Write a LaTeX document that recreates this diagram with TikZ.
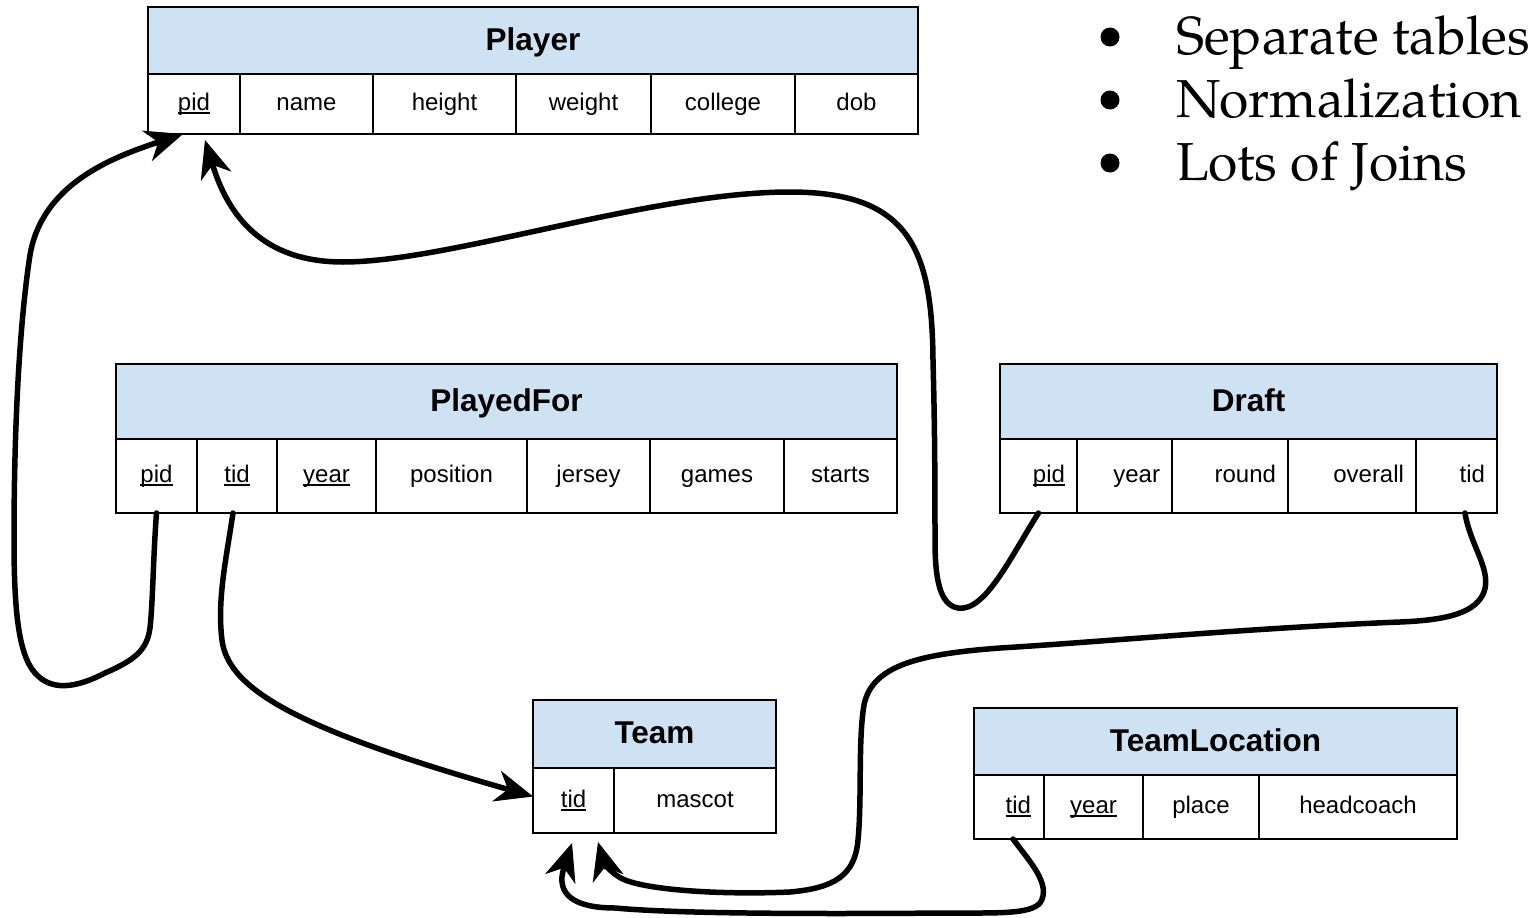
\documentclass[tikz,border=0pt]{standalone}
\usepackage{fontspec}
\setmainfont{Liberation Sans}
\newfontfamily\bulletfont{TeX Gyre Pagella}
\usetikzlibrary{arrows.meta}
\definecolor{hdrblue}{HTML}{CFE2F3}
% key attribute: underline at a fixed distance below the baseline
\newcommand\keyul[1]{\setbox0=\hbox{#1}\rlap{\rule[-3.8pt]{\wd0}{2pt}}\box0}
\tikzset{
  tbl/.style={draw=black, line width=1.5pt, inner sep=0pt, outer sep=0pt},
  hdr/.style={tbl, fill=hdrblue, font=\fontsize{31.5}{36}\selectfont\bfseries,
    text height=22.5pt, text depth=3.5pt},
  cell/.style={tbl, fill=white, font=\fontsize{24}{28}\selectfont,
    text height=17pt, text depth=4pt},
  rcell/.style={cell, align=right},
  fk/.style={line width=5.5pt, line cap=round, line join=round,
    -{Stealth[length=38pt,width=32pt,inset=12pt,line width=1pt]}},
  dot/.style={circle, fill=black, inner sep=0pt, minimum size=19pt},
  btext/.style={anchor=base west, inner sep=0pt, font=\bulletfont\fontsize{53.5}{64}\selectfont},
}
\begin{document}
\begin{tikzpicture}[x=1pt, y=-1pt]
\useasboundingbox (0,0) rectangle (1535,918);

% ---------- Player ----------
\node[hdr, minimum width=770, minimum height=67] (player) at (533,40.5) {Player};
\node[cell, minimum width=92,  minimum height=60] (plpid)     at (194,104)   {\keyul{pid}};
\node[cell, minimum width=133, minimum height=60] (plname)    at (306.5,104) {name};
\node[cell, minimum width=143, minimum height=60] (plheight)  at (444.5,104) {height};
\node[cell, minimum width=135, minimum height=60] (plweight)  at (583.5,104) {weight};
\node[cell, minimum width=144, minimum height=60] (plcollege) at (723,104)   {college};
\node[cell, minimum width=123, minimum height=60] (pldob)     at (856.5,104) {dob};

% ---------- PlayedFor ----------
\node[hdr, minimum width=781, minimum height=75] (playedfor) at (506.5,401.5) {PlayedFor};
\node[cell, minimum width=81,  minimum height=74] (pfpid)   at (156.5,476) {\keyul{pid}};
\node[cell, minimum width=80,  minimum height=74] (pftid)   at (237,476)   {\keyul{tid}};
\node[cell, minimum width=99,  minimum height=74] (pfyear)  at (326.5,476) {\keyul{year}};
\node[cell, minimum width=151, minimum height=74] (pfpos)   at (451.5,476) {position};
\node[cell, minimum width=123, minimum height=74] (pfjersey) at (588.5,476) {jersey};
\node[cell, minimum width=134, minimum height=74] (pfgames) at (717,476)   {games};
\node[cell, minimum width=113, minimum height=74] (pfstarts) at (840.5,476) {starts};

% ---------- Draft ----------
\node[hdr, minimum width=497, minimum height=75] (draft) at (1248.5,401.5) {Draft};
\node[rcell, minimum width=77,  text width=53,  minimum height=74] (dpid)     at (1038.5,476) {\keyul{pid}};
\node[rcell, minimum width=95,  text width=71,  minimum height=74] (dyear)    at (1124.5,476) {year};
\node[rcell, minimum width=116, text width=92,  minimum height=74] (dround)   at (1230,476)   {round};
\node[rcell, minimum width=128, text width=104, minimum height=74] (doverall) at (1352,476)   {overall};
\node[rcell, minimum width=81,  text width=57,  minimum height=74] (dtid)     at (1456.5,476) {tid};

% ---------- Team ----------
\node[hdr, minimum width=243, minimum height=68] (team) at (654.5,734) {Team};
\node[cell, minimum width=81,  minimum height=65] (tmtid)    at (573.5,800.5) {\keyul{tid}};
\node[cell, minimum width=162, minimum height=65] (tmmascot) at (695,800.5)   {mascot};

% ---------- TeamLocation ----------
\node[hdr, minimum width=483, minimum height=67] (teamloc) at (1215.5,741.5) {TeamLocation};
\node[rcell, minimum width=70, text width=44, minimum height=64] (tltid) at (1009,807) {\keyul{tid}};
\node[cell, minimum width=99,  minimum height=64] (tlyear)  at (1093.5,807) {\keyul{year}};
\node[cell, minimum width=116, minimum height=64] (tlplace) at (1201,807)   {place};
\node[cell, minimum width=198, minimum height=64] (tlcoach) at (1358,807)   {headcoach};

% ---------- bullet list ----------
\node[dot] (b1) at (1110,37)  {};
\node[dot] (b2) at (1110,100) {};
\node[dot] (b3) at (1110,163) {};
\node[btext] (t1) at (1176,54)  {Separate tables};
\node[btext] (t2) at (1176,117) {Normalization};
\node[btext] (t3) at (1176,180) {Lots of Joins};

% ---------- foreign keys ----------
% PlayedFor.pid -> Player.pid
\draw[fk] (pfpid.south) .. controls (153,560) and (153,600) .. (150,628)
  .. controls (147,650) and (135,660) .. (105,673)
  .. controls (80,686) and (55,692) .. (38,676)
  .. controls (20,660) and (14,620) .. (14,540)
  .. controls (14,420) and (20,320) .. (30,255)
  .. controls (42,185) and (110,158) .. ([xshift=-11]plpid.south);

% Draft.pid -> Player.pid
\draw[fk] (dpid.south) .. controls (1010,558) and (985,612) .. (958,608)
  .. controls (940,605) and (935,580) .. (935,540)
  .. controls (935,440) and (934,400) .. (933,360)
  .. controls (932,250) and (910,192) .. (790,192)
  .. controls (650,192) and (450,262) .. (343,262)
  .. controls (262,262) and (228,215) .. ([xshift=11,yshift=-6]plpid.south);

% PlayedFor.tid -> Team.tid
\draw[fk] ([xshift=-4]pftid.south) .. controls (226,560) and (217,600) .. (222,640)
  .. controls (228,690) and (300,730) .. ([yshift=4]tmtid.west);

% Draft.tid -> Team.tid
\draw[fk] ([xshift=8.5]dtid.south) .. controls (1470,545) and (1492,570) .. (1484,592)
  .. controls (1476,612) and (1450,620) .. (1400,622)
  .. controls (1250,628) and (1100,642) .. (1000,648)
  .. controls (920,654) and (872,665) .. (864,705)
  .. controls (858,740) and (862,800) .. (858,840)
  .. controls (855,875) and (835,888) .. (790,892)
  .. controls (720,895) and (650,890) .. (625,880)
  .. controls (610,874) and (603,860) .. ([xshift=24.5,yshift=-9]tmtid.south);

% TeamLocation.tid -> Team.tid
\draw[fk] ([xshift=4]tltid.south) .. controls (1030,862) and (1052,885) .. (1040,903)
  .. controls (1030,914) and (1000,913) .. (950,913)
  .. controls (820,914) and (680,914) .. (615,908)
  .. controls (575,908) and (555,895) .. ([xshift=-1.5,yshift=-10]tmtid.south);
\end{tikzpicture}
\end{document}
